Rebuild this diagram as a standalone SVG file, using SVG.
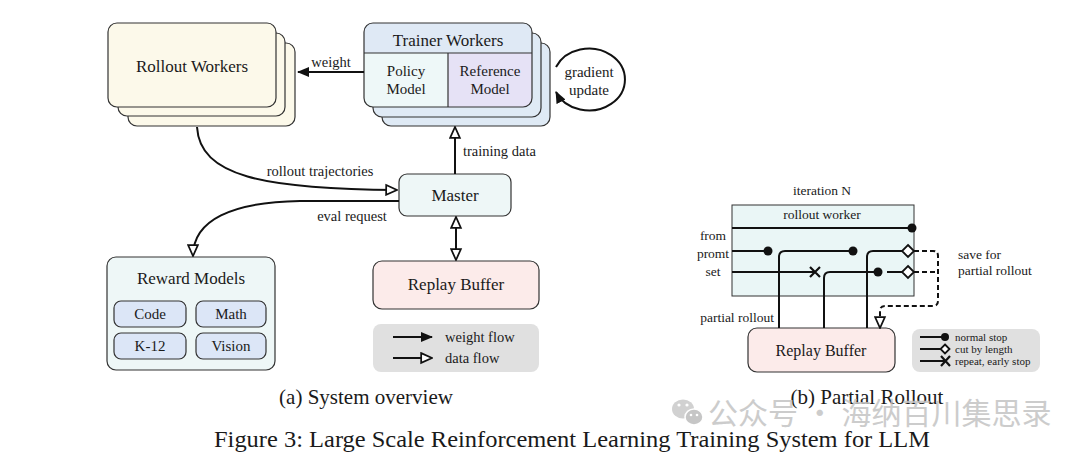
<svg xmlns="http://www.w3.org/2000/svg" width="1080" height="463" viewBox="0 0 1080 463">
<style>
text{font-family:"Liberation Serif","Times New Roman",serif;fill:#1a1a1a}
.box{stroke:#333;stroke-width:1.2}
.t17{font-size:17px;text-anchor:middle}
.t15{font-size:15px;text-anchor:middle}
.lbl{font-size:14.5px}
.edge{fill:none;stroke:#111;stroke-width:2}
.trk{fill:none;stroke:#111;stroke-width:2}
.dash{fill:none;stroke:#111;stroke-width:2;stroke-dasharray:5,3}
.dot{fill:#111}
.dia{fill:#fff;stroke:#111;stroke-width:1.8}
.xm{stroke:#111;stroke-width:2.2}
.sm{font-size:13.5px}
.lg{font-size:11px}
</style>
<defs>
<marker id="fa" markerUnits="userSpaceOnUse" markerWidth="12" markerHeight="12" viewBox="0 0 12 10" refX="11" refY="5" orient="auto"><path d="M0,0 L12,5 L0,10 z" fill="#111"/></marker>
<marker id="ha" markerUnits="userSpaceOnUse" markerWidth="13" markerHeight="13" viewBox="-1 -1 12 11" refX="10" refY="4.5" orient="auto-start-reverse"><path d="M0,0 L10,4.5 L0,9 z" fill="#fff" stroke="#111" stroke-width="1.6"/></marker>
</defs>
<rect width="1080" height="463" fill="#fff"/>

<g id="rollout-workers">
<rect class="box" x="128" y="43" width="167" height="83" rx="9" fill="#fcf9ea"/>
<rect class="box" x="118" y="33" width="167" height="83" rx="9" fill="#fcf9ea"/>
<rect class="box" x="108" y="23" width="168" height="84" rx="9" fill="#fcf9ea"/>
<text class="t17" x="192" y="72">Rollout Workers</text>
</g>

<g id="trainer-workers">
<rect class="box" x="382" y="43" width="168" height="83" rx="9" fill="#dfeaf5"/>
<rect class="box" x="373" y="33" width="168" height="84" rx="9" fill="#dfeaf5"/>
<path d="M364,53 V32 Q364,23 373,23 H523 Q532,23 532,32 V53 z" fill="#dfe9f5"/>
<path d="M364,53 H448 V107 H373 Q364,107 364,98 z" fill="#eef8f8"/>
<path d="M448,53 H532 V98 Q532,107 523,107 H448 z" fill="#e6e2f6"/>
<rect class="box" x="364" y="23" width="168" height="84" rx="9" fill="none"/>
<line x1="364" y1="53" x2="532" y2="53" stroke="#333" stroke-width="1.2"/>
<line x1="448" y1="53" x2="448" y2="107" stroke="#333" stroke-width="1.2"/>
<text class="t17" x="448" y="46">Trainer Workers</text>
<text class="t15" x="406" y="76">Policy</text>
<text class="t15" x="406" y="94">Model</text>
<text class="t15" x="490" y="76">Reference</text>
<text class="t15" x="490" y="94">Model</text>
</g>

<g id="master">
<rect class="box" x="399" y="174" width="112" height="42" rx="8" fill="#eef7f7"/>
<text class="t17" x="455" y="201">Master</text>
</g>

<g id="replay-buffer-a">
<rect class="box" x="373" y="261" width="166" height="48" rx="9" fill="#fcebea"/>
<text class="t17" x="456" y="290">Replay Buffer</text>
</g>

<g id="reward-models">
<rect class="box" x="107" y="257" width="168" height="113" rx="9" fill="#eef7f7"/>
<text class="t17" x="191" y="284">Reward Models</text>
<rect class="box" x="114" y="301" width="72" height="26" rx="7" fill="#dce6f7"/>
<text class="t15" x="150" y="319">Code</text>
<rect class="box" x="196" y="301" width="70" height="26" rx="7" fill="#dce6f7"/>
<text class="t15" x="231" y="319">Math</text>
<rect class="box" x="114" y="333" width="72" height="26" rx="7" fill="#dce6f7"/>
<text class="t15" x="150" y="351">K-12</text>
<rect class="box" x="196" y="333" width="70" height="26" rx="7" fill="#dce6f7"/>
<text class="t15" x="231" y="351">Vision</text>
</g>

<g id="legend-a">
<rect x="373" y="324" width="166" height="48" rx="8" fill="#e0e0e0"/>
<line class="edge" x1="393" y1="337" x2="432" y2="337" marker-end="url(#fa)"/>
<line class="edge" x1="393" y1="358" x2="432" y2="358" marker-end="url(#ha)"/>
<text class="lbl" x="445" y="342">weight flow</text>
<text class="lbl" x="445" y="363">data flow</text>
</g>

<g id="connectors">
<line class="edge" x1="364" y1="72" x2="298" y2="72" marker-end="url(#fa)"/>
<text class="lbl" x="331" y="67" text-anchor="middle">weight</text>
<path class="edge" d="M556,67 A36,31 0 1,1 556,92" marker-end="url(#fa)"/>
<text class="t15" x="589" y="77">gradient</text>
<text class="t15" x="589" y="95">update</text>
<line class="edge" x1="455" y1="174" x2="455" y2="127" marker-end="url(#ha)"/>
<text class="lbl" x="463" y="156">training data</text>
<path class="edge" d="M197,127 C200,176 262,189 397,190" marker-end="url(#ha)"/>
<text class="lbl" x="320" y="176" text-anchor="middle">rollout trajectories</text>
<path class="edge" d="M399,201 H300 C232,202 193,220 193,256" marker-end="url(#ha)"/>
<text class="lbl" x="352" y="221" text-anchor="middle">eval request</text>
<line class="edge" x1="456" y1="217" x2="456" y2="260" marker-start="url(#ha)" marker-end="url(#ha)"/>
</g>

<g id="rollout-worker-b">
<rect x="732" y="205" width="182" height="91" fill="#eaf6f6" stroke="#333" stroke-width="1"/>
<text class="sm" x="822" y="219" text-anchor="middle">rollout worker</text>
</g>
<text class="sm" x="822" y="195" text-anchor="middle">iteration N</text>
<text class="sm" x="713" y="240" text-anchor="middle">from</text>
<text class="sm" x="713" y="258" text-anchor="middle">promt</text>
<text class="sm" x="713" y="276" text-anchor="middle">set</text>
<text class="sm" x="958" y="259">save for</text>
<text class="sm" x="958" y="275">partial rollout</text>
<text class="sm" x="774" y="322" text-anchor="end">partial rollout</text>

<g id="replay-buffer-b">
<rect class="box" x="748" y="328" width="147" height="44" rx="9" fill="#fcebea"/>
<text x="821" y="356" font-size="16" text-anchor="middle">Replay Buffer</text>
</g>

<g id="tracks">
<path class="trk" d="M732,228 H912"/>
<circle class="dot" cx="912" cy="228" r="4.5"/>
<path class="trk" d="M732,251 H768"/>
<circle class="dot" cx="768" cy="251" r="4.5"/>
<path class="trk" d="M779,328 V257 Q779,251 785,251 H853"/>
<circle class="dot" cx="853" cy="251" r="4.5"/>
<path class="trk" d="M867,328 V257 Q867,251 873,251 H902"/>
<path class="dia" d="M908,245 L914,251 L908,257 L902,251 z"/>
<path class="trk" d="M732,272 H815"/>
<path class="xm" d="M810,267 L820,277 M820,267 L810,277"/>
<path class="trk" d="M824,328 V278 Q824,272 830,272 H878"/>
<circle class="dot" cx="878" cy="272" r="4.5"/>
<path class="trk" d="M887,272 H902"/>
<path class="dia" d="M908,266 L914,272 L908,278 L902,272 z"/>
<path class="dash" d="M914,251 H933 Q938,251 938,256 V301 Q938,306 933,306 H885 Q880,306 880,311 V328" marker-end="url(#ha)"/>
<path class="dash" d="M914,272 H938"/>
</g>

<g id="legend-b">
<rect x="912" y="329" width="128" height="43" rx="8" fill="#e0e0e0"/>
<path class="trk" d="M920,337 H944"/>
<circle class="dot" cx="945" cy="337" r="4"/>
<path class="trk" d="M920,349 H940"/>
<path class="dia" d="M945,344.5 L949.5,349 L945,353.5 L940.5,349 z"/>
<path class="trk" d="M920,361 H945"/>
<path class="xm" d="M941,356 L950,366 M950,356 L941,366"/>
<text class="lg" x="955" y="341">normal stop</text>
<text class="lg" x="955" y="353">cut by length</text>
<text class="lg" x="955" y="365">repeat, early stop</text>
</g>

<g id="captions">
<text x="366" y="404" font-size="21" text-anchor="middle">(a) System overview</text>
<text x="867" y="404" font-size="21" text-anchor="middle">(b) Partial Rollout</text>
<text x="572" y="447" font-size="23" text-anchor="middle" textLength="716" lengthAdjust="spacingAndGlyphs">Figure 3: Large Scale Reinforcement Learning Training System for LLM</text>
</g>

<g id="watermark" opacity="0.85">
<ellipse cx="683" cy="409" rx="11" ry="9.5" fill="#c9c9c9"/>
<ellipse cx="694" cy="417" rx="9" ry="8" fill="#bdbdbd" stroke="#fff" stroke-width="1.5"/>
<circle cx="679" cy="405" r="1.6" fill="#fff"/><circle cx="687" cy="405" r="1.6" fill="#fff"/>
<circle cx="691" cy="415" r="1.3" fill="#fff"/><circle cx="697" cy="415" r="1.3" fill="#fff"/>
<text x="708" y="424" font-size="30" style="font-family:'Noto Sans CJK SC','Noto Sans',sans-serif;fill:#c4c4c4">公众号 · 海纳百川集思录</text>
</g>
</svg>
